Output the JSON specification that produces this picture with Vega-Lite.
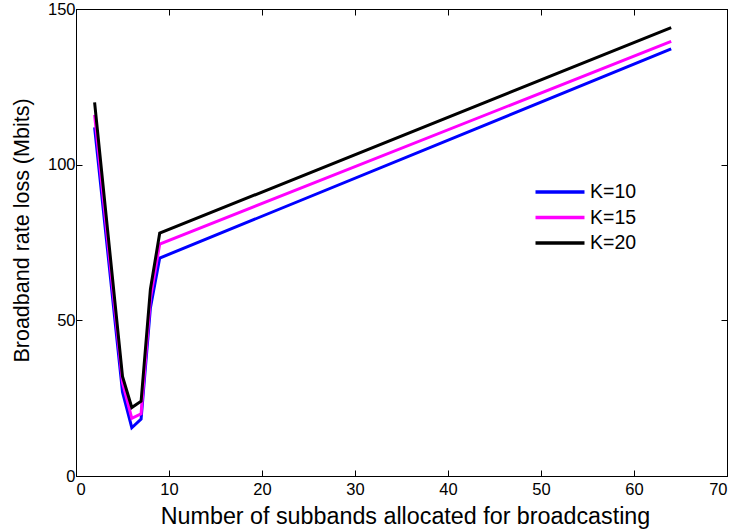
{
  "$schema": "https://vega.github.io/schema/vega-lite/v6.json",
  "width": 651,
  "height": 467,
  "autosize": {"type": "none"},
  "padding": {"left": 76, "top": 9, "right": 12, "bottom": 54},
  "background": "white",
  "config": {
    "font": "Liberation Sans",
    "view": {"stroke": "black", "strokeWidth": 1},
    "axis": {
      "grid": false,
      "domainColor": "black",
      "domainWidth": 1,
      "tickColor": "black",
      "tickWidth": 1,
      "tickSize": -6,
      "labelColor": "black",
      "labelFont": "Liberation Sans",
      "labelFontSize": 16.5,
      "titleColor": "black",
      "titleFont": "Liberation Sans",
      "titleFontWeight": "normal"
    }
  },
  "data": {
    "values": [
      {"n": 2, "loss": 112, "K": "K=10"},
      {"n": 5, "loss": 27, "K": "K=10"},
      {"n": 6, "loss": 15.5, "K": "K=10"},
      {"n": 7, "loss": 18.3, "K": "K=10"},
      {"n": 8, "loss": 54, "K": "K=10"},
      {"n": 9, "loss": 70, "K": "K=10"},
      {"n": 64, "loss": 137.2, "K": "K=10"},
      {"n": 2, "loss": 116, "K": "K=15"},
      {"n": 5, "loss": 30, "K": "K=15"},
      {"n": 6, "loss": 18.5, "K": "K=15"},
      {"n": 7, "loss": 20, "K": "K=15"},
      {"n": 8, "loss": 57, "K": "K=15"},
      {"n": 9, "loss": 74.5, "K": "K=15"},
      {"n": 64, "loss": 139.6, "K": "K=15"},
      {"n": 2, "loss": 120, "K": "K=20"},
      {"n": 5, "loss": 32, "K": "K=20"},
      {"n": 6, "loss": 22, "K": "K=20"},
      {"n": 7, "loss": 24, "K": "K=20"},
      {"n": 8, "loss": 60, "K": "K=20"},
      {"n": 9, "loss": 78, "K": "K=20"},
      {"n": 64, "loss": 144, "K": "K=20"}
    ]
  },
  "resolve": {"axis": {"x": "independent", "y": "independent"}},
  "layer": [
    {
      "mark": {"type": "line", "strokeWidth": 3, "clip": true},
      "encoding": {
        "x": {
          "field": "n", "type": "quantitative",
          "scale": {"domain": [0, 70], "nice": false, "zero": false},
          "axis": {"values": [0, 10, 20, 30, 40, 50, 60, 70], "labelPadding": 11, "title": "Number of subbands allocated for broadcasting", "titleFontSize": 23.3, "titlePadding": 8, "titleX": 329}
        },
        "y": {
          "field": "loss", "type": "quantitative",
          "scale": {"domain": [0, 150], "nice": false},
          "axis": {"values": [0, 50, 100, 150], "labelPadding": 7, "title": "Broadband rate loss (Mbits)", "titleFontSize": 21.5, "titlePadding": 14, "titleY": 221}
        },
        "color": {
          "field": "K", "type": "nominal",
          "scale": {"domain": ["K=10", "K=15", "K=20"], "range": ["#0000ff", "#ff00ff", "#000000"]},
          "legend": {
            "title": null,
            "orient": "none",
            "legendX": 470,
            "legendY": 169,
            "symbolType": "M-2,0H2",
            "symbolStrokeWidth": 3.5,
            "symbolSize": 600,
            "labelFontSize": 19.5,
            "labelColor": "black",
            "labelFont": "Liberation Sans",
            "labelOffset": 16,
            "rowPadding": 1.5
          }
        }
      }
    },
    {
      "mark": {"type": "line", "opacity": 0},
      "encoding": {
        "x": {"field": "n", "type": "quantitative", "axis": {"orient": "top", "values": [0, 10, 20, 30, 40, 50, 60, 70], "labels": false, "title": null}},
        "y": {"field": "loss", "type": "quantitative", "axis": {"orient": "right", "values": [0, 50, 100, 150], "labels": false, "title": null}},
        "detail": {"field": "K"}
      }
    }
  ]
}
